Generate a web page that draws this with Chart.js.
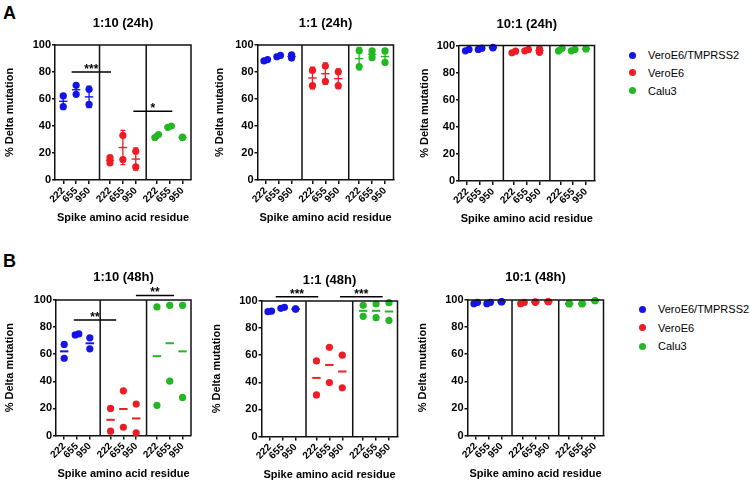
<!DOCTYPE html>
<html lang="en">
<head>
<meta charset="UTF-8"/>
<title>% Delta mutation by spike residue</title>
<script src="https://cdn.jsdelivr.net/npm/chart.js@4"></script>
<style>
    html, body { margin: 0; background: #fff; }
    #page { position: relative; width: 750px; height: 484px; font-family: Arial, "Liberation Sans", sans-serif; color: #000; }
    canvas { position: absolute; }
    .tag { position: absolute; font-weight: bold; font-size: 18px; line-height: 18px; }
    .legend { position: absolute; font-size: 11px; }
    .legend .row { position: relative; white-space: nowrap; }
    .legend .dot { position: absolute; left: 0; width: 7px; height: 7px; border-radius: 50%; }
    .legend .txt { position: absolute; }
</style>
</head>
<body>
<div id="page">
    <div class="tag" style="left:3px; top:4px;">A</div>
    <div class="tag" style="left:3px; top:252px;">B</div>
    <canvas id="a1" width="205" height="240" style="left:0; top:0;"></canvas>
    <canvas id="a2" width="200" height="240" style="left:208px; top:0;"></canvas>
    <canvas id="a3" width="200" height="240" style="left:412px; top:0;"></canvas>
    <canvas id="b1" width="205" height="244" style="left:0; top:240px;"></canvas>
    <canvas id="b2" width="200" height="244" style="left:205px; top:240px;"></canvas>
    <canvas id="b3" width="200" height="244" style="left:412px; top:240px;"></canvas>
    <div class="legend" id="legendA" style="left:629px; top:46px;"></div>
    <div class="legend" id="legendB" style="left:639px; top:300px;"></div>
</div>

<script>
    // categories
    const residues = ['222', '655', '950'];
    const cellLines = ['VeroE6/TMPRSS2', 'VeroE6', 'Calu3'];
    const colors = ['#1414e6', '#ee1c24', '#22b822'];

    // % Delta mutation, replicates per residue (222, 655, 950)
    const h24_1to10_VT = [[62.3, 54.3], [70.2, 63.5], [67.2, 56.0]];
    const h24_1to10_V6 = [[16.6, 12.7], [33.0, 15.1], [21.3, 9.7]];
    const h24_1to10_C3 = [[31.5, 33.7], [39.0, 40.0], [31.4, 31.7]];

    const h24_1to1_VT = [[88.2, 89.2], [91.3, 92.3], [90.3, 92.7]];
    const h24_1to1_V6 = [[81.2, 69.9], [84.4, 73.1], [80.2, 69.9]];
    const h24_1to1_C3 = [[95.8, 84.0], [95.6, 90.6], [95.6, 87.2]];

    const h24_10to1_VT = [[96.1, 97.1], [97.1, 98.0], [98.3, 98.6]];
    const h24_10to1_V6 = [[94.6, 95.8], [96.1, 97.1], [95.0, 97.5]];
    const h24_10to1_C3 = [[96.0, 98.0], [96.1, 97.1], [97.4, 97.7]];

    const h48_1to10_VT = [[67.2, 57.0], [74.2, 75.0], [72.1, 64.0]];
    const h48_1to10_V6 = [[20.0, 3.2], [33.0, 6.1], [23.2, 2.0]];
    const h48_1to10_C3 = [[94.9, 22.2], [96.1, 40.1], [96.1, 28.1]];

    const h48_1to1_VT = [[92.1, 92.6], [94.6, 95.3], [94.0, 94.2]];
    const h48_1to1_V6 = [[55.8, 30.7], [65.8, 39.8], [60.0, 35.9]];
    const h48_1to1_C3 = [[96.8, 88.7], [97.8, 87.7], [98.8, 85.7]];

    const h48_10to1_VT = [[97.3, 98.3], [97.3, 98.3], [98.6, 98.9]];
    const h48_10to1_V6 = [[97.3, 98.3], [98.3, 98.7], [98.7, 98.9]];
    const h48_10to1_C3 = [[97.1, 97.5], [97.1, 97.5], [99.4, 99.6]];

    // significance bars: [from, to, y, label] in x-scale units
    const sig24_1to10 = [[0.65, 3.7, 80, '***'], [5.43, 8.45, 51, '*']];
    const sig48_1to10 = [[0.75, 4.06, 85.3, '**'], [5.6, 8.58, 103.4, '**']];
    const sig48_1to1 = [[0.46, 3.76, 103.2, '***'], [5.44, 8.75, 103.2, '***']];

    const yTicks = [0, 20, 40, 60, 80, 100];

    const GAP = 3.62;
    const groupX = (g, i) => g * GAP + i;
    const tickValues = [0, 1, 2].flatMap(g => [0, 1, 2].map(i => groupX(g, i)));

    const mean = a => a.reduce((s, v) => s + v, 0) / a.length;
    const sd = a => {
        const m = mean(a);
        return Math.sqrt(a.reduce((s, v) => s + (v - m) ** 2, 0) / (a.length - 1));
    };
    // close pairs sit side by side, like the original scatter
    function spread(reps) {
        const d = Math.abs(reps[0] - reps[1]);
        if (d > 0.45 && d < 2.3) {
            const lo = Math.min(...reps);
            return reps.map(v => v === lo ? -0.14 : 0.14);
        }
        return reps.map(() => 0);
    }

    Chart.defaults.font.family = 'Arial, "Liberation Sans", sans-serif';
    Chart.defaults.color = '#000';

    const decor = {
        id: 'decor',
        afterDatasetsDraw(chart, args, opts) {
            const {ctx, chartArea: a, scales: {x, y}} = chart;
            ctx.save();
            ctx.strokeStyle = '#111';
            ctx.lineWidth = 1.5;
            ctx.beginPath();
            ctx.moveTo(a.left, a.top);
            ctx.lineTo(a.right, a.top);
            ctx.lineTo(a.right, a.bottom);
            [1, 2].forEach(g => {
                const px = x.getPixelForValue(groupX(g, 0) - (GAP - 2) / 2);
                ctx.moveTo(px, a.top);
                ctx.lineTo(px, a.bottom);
            });
            ctx.stroke();

            if (opts.errorBars) {
                opts.vals.forEach((series, s) => {
                    ctx.strokeStyle = colors[s];
                    ctx.lineWidth = 1.3;
                    series.forEach((reps, i) => {
                        const m = mean(reps), e = sd(reps);
                        const px = x.getPixelForValue(groupX(s, i));
                        const y1 = y.getPixelForValue(m - e), y2 = y.getPixelForValue(m + e);
                        ctx.beginPath();
                        ctx.moveTo(px, y1); ctx.lineTo(px, y2);
                        ctx.moveTo(px - 2.5, y1); ctx.lineTo(px + 2.5, y1);
                        ctx.moveTo(px - 2.5, y2); ctx.lineTo(px + 2.5, y2);
                        ctx.stroke();
                    });
                });
            }

            ctx.strokeStyle = '#000';
            ctx.fillStyle = '#000';
            ctx.lineWidth = 1.5;
            ctx.font = 'bold 12px Arial, "Liberation Sans", sans-serif';
            ctx.textAlign = 'center';
            ctx.textBaseline = 'alphabetic';
            (opts.sig || []).forEach(([from, to, v, label]) => {
                const x1 = x.getPixelForValue(from), x2 = x.getPixelForValue(to);
                const py = y.getPixelForValue(v);
                ctx.beginPath();
                ctx.moveTo(x1, py); ctx.lineTo(x2, py);
                ctx.stroke();
                ctx.fillText(label, (x1 + x2) / 2, py + 1);
            });
            ctx.restore();
        }
    };

    const panels = [
        {id: 'a1', title: '1:10 (24h)', vals: [h24_1to10_VT, h24_1to10_V6, h24_1to10_C3], sig: sig24_1to10, errorBars: true,
            box: {x: 0, y: 0, w: 205, h: 240}, plot: {l: 55, t: 45, r: 191, b: 180}, titleY: 23.3, xTitleY: 218.3, yTitleX: 10},
        {id: 'a2', title: '1:1 (24h)', vals: [h24_1to1_VT, h24_1to1_V6, h24_1to1_C3], sig: [], errorBars: true,
            box: {x: 208, y: 0, w: 200, h: 240}, plot: {l: 257.5, t: 45, r: 393.5, b: 180}, titleY: 23.3, xTitleY: 218.3, yTitleX: 220},
        {id: 'a3', title: '10:1 (24h)', vals: [h24_10to1_VT, h24_10to1_V6, h24_10to1_C3], sig: [], errorBars: true,
            box: {x: 412, y: 0, w: 200, h: 240}, plot: {l: 459, t: 45.5, r: 594.5, b: 181}, titleY: 24, xTitleY: 219.3, yTitleX: 425},
        {id: 'b1', title: '1:10 (48h)', vals: [h48_1to10_VT, h48_1to10_V6, h48_1to10_C3], sig: sig48_1to10, errorBars: false,
            box: {x: 0, y: 240, w: 205, h: 244}, plot: {l: 56, t: 300, r: 191, b: 435.5}, titleY: 277, xTitleY: 474.3, yTitleX: 10},
        {id: 'b2', title: '1:1 (48h)', vals: [h48_1to1_VT, h48_1to1_V6, h48_1to1_C3], sig: sig48_1to1, errorBars: false,
            box: {x: 205, y: 240, w: 200, h: 244}, plot: {l: 261.5, t: 301, r: 397.5, b: 436.5}, titleY: 280, xTitleY: 475, yTitleX: 217},
        {id: 'b3', title: '10:1 (48h)', vals: [h48_10to1_VT, h48_10to1_V6, h48_10to1_C3], sig: [], errorBars: false,
            box: {x: 412, y: 240, w: 200, h: 244}, plot: {l: 467.5, t: 300, r: 603.5, b: 435.5}, titleY: 277.7, xTitleY: 474.3, yTitleX: 423}
    ];

    function makePanel(p) {
        const half = 6.6; // half line height of 11px axis titles
        const yWidth = p.plot.l - (p.yTitleX - half);
        const xHeight = p.xTitleY + half - p.plot.b;

        const datasets = [];
        p.vals.forEach((series, s) => {
            datasets.push({
                label: cellLines[s],
                data: series.flatMap((reps, i) => {
                    const off = spread(reps);
                    return reps.map((v, k) => ({x: groupX(s, i) + off[k], y: v}));
                }),
                backgroundColor: colors[s],
                borderWidth: 0,
                pointRadius: 3.6,
                clip: false,
                order: 1
            });
            datasets.push({
                label: cellLines[s] + ' mean',
                data: series.map((reps, i) => ({x: groupX(s, i), y: mean(reps)})),
                pointStyle: 'line',
                pointRadius: 4.2,
                borderColor: colors[s],
                pointBorderColor: colors[s],
                pointBorderWidth: p.errorBars ? 1.4 : 2,
                clip: false,
                order: 0
            });
        });

        new Chart(document.getElementById(p.id), {
            type: 'scatter',
            data: {datasets},
            options: {
                responsive: false,
                animation: false,
                events: [],
                layout: {
                    padding: {
                        left: p.yTitleX - half - p.box.x,
                        right: p.box.x + p.box.w - p.plot.r,
                        top: p.titleY - 7.8 - p.box.y,
                        bottom: p.box.y + p.box.h - (p.xTitleY + half)
                    }
                },
                plugins: {
                    legend: {display: false},
                    tooltip: {enabled: false},
                    title: {
                        display: true,
                        text: p.title,
                        fullSize: false,
                        font: {size: 13, weight: 'bold', lineHeight: 1.2},
                        color: '#000',
                        padding: {top: 0, bottom: p.plot.t - (p.titleY + 7.8)}
                    },
                    decor: {errorBars: p.errorBars, vals: p.vals, sig: p.sig}
                },
                scales: {
                    x: {
                        type: 'linear',
                        min: -0.64,
                        max: 9.9,
                        afterBuildTicks: s => { s.ticks = tickValues.map(v => ({value: v})); },
                        afterFit: s => { s.height = xHeight; s.paddingLeft = 0; s.paddingRight = 0; },
                        ticks: {
                            autoSkip: false,
                            minRotation: 45,
                            maxRotation: 45,
                            padding: 1,
                            font: {size: 10, weight: 'bold'},
                            color: '#000',
                            callback: (v, i) => residues[i % 3]
                        },
                        grid: {drawOnChartArea: false, drawTicks: true, tickLength: 4, color: '#111', lineWidth: 1.5},
                        border: {color: '#111', width: 1.5},
                        title: {
                            display: true,
                            text: 'Spike amino acid residue',
                            font: {size: 11, weight: 'bold', lineHeight: 1.2},
                            color: '#000',
                            padding: 0
                        }
                    },
                    y: {
                        min: 0,
                        max: 100,
                        afterBuildTicks: s => { s.ticks = yTicks.map(v => ({value: v})); },
                        afterFit: s => { s.width = yWidth; s.paddingTop = 0; s.paddingBottom = 0; },
                        ticks: {padding: 1, font: {size: 11, weight: 'bold'}, color: '#000'},
                        grid: {drawOnChartArea: false, drawTicks: true, tickLength: 3, color: '#111', lineWidth: 1.5},
                        border: {color: '#111', width: 1.5},
                        title: {
                            display: true,
                            text: '% Delta mutation',
                            font: {size: 11, weight: 'bold', lineHeight: 1.2},
                            color: '#000',
                            padding: 0
                        }
                    }
                }
            },
            plugins: [decor]
        });
    }

    panels.forEach(makePanel);

    function makeLegend(id, rowH) {
        const box = document.getElementById(id);
        cellLines.forEach((name, s) => {
            const row = document.createElement('div');
            row.className = 'row';
            row.style.height = rowH + 'px';
            row.style.lineHeight = '18px';
            row.innerHTML = `<span class="dot" style="background:${colors[s]}; top:5.5px;"></span>` +
                `<span class="txt" style="left:19px; top:0;">${name}</span>`;
            box.appendChild(row);
        });
    }
    makeLegend('legendA', 17.8);
    makeLegend('legendB', 18.5);
</script>
</body>
</html>
